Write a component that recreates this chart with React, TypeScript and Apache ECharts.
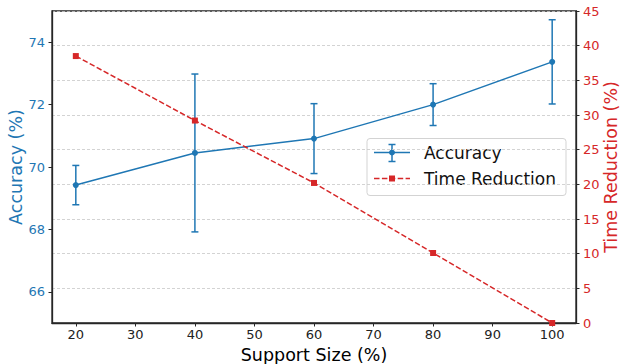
import React, { useEffect, useRef } from "react";
import * as echarts from "echarts";

const supportSize = [20, 40, 60, 80, 100];
const accuracy = [69.42, 70.45, 70.91, 72.0, 73.37];
const accuracyErr = [0.63, 2.53, 1.12, 0.67, 1.35];
const timeReduction = [38.5, 29.2, 20.2, 10.1, 0];
const xTicks = [20, 30, 40, 50, 60, 70, 80, 90, 100];
const leftTicks = [66, 68, 70, 72, 74];

const BLUE = "#1f77b4";
const RED = "#d62728";
const FONT = "DejaVu Sans";
const SPINE = "#262626";

export default function App() {
  const ref = useRef<HTMLDivElement>(null);
  useEffect(() => {
    if (!ref.current) return;
    const chart = echarts.init(ref.current, undefined, { renderer: "svg" });
    const errData = supportSize.map((x, i) => [x, accuracy[i] - accuracyErr[i], accuracy[i] + accuracyErr[i]]);
    const legendX = 367;
    const legendY = 138.5;
    chart.setOption({
      animation: false,
      grid: {
        left: 52,
        right: 45,
        top: 11,
        bottom: 41,
        containLabel: false,
        outerBoundsMode: "none",
        show: true,
        borderColor: SPINE,
        borderWidth: 1.3,
        backgroundColor: "transparent",
      },
      xAxis: {
        type: "value",
        min: 16,
        max: 104,
        name: "Support Size (%)",
        nameLocation: "middle",
        nameGap: 23,
        nameMoveOverlap: false,
        nameTextStyle: { fontFamily: FONT, fontSize: 17.5, color: "#000", verticalAlign: "top" },
        axisLine: { show: true, lineStyle: { color: SPINE, width: 1.3 } },
        axisTick: { show: true, length: 3.5, lineStyle: { color: SPINE }, customValues: xTicks },
        axisLabel: { fontFamily: FONT, fontSize: 13, color: "#222", margin: 5, customValues: xTicks },
        splitLine: { show: false },
      },
      yAxis: [
        {
          type: "value",
          min: 65,
          max: 75,
          position: "left",
          name: "Accuracy (%)",
          nameLocation: "middle",
          nameGap: 36.5,
          nameRotate: 90,
          nameMoveOverlap: false,
          nameTextStyle: { fontFamily: FONT, fontSize: 17.5, color: BLUE, verticalAlign: "middle", align: "center" },
          axisLine: { show: true, lineStyle: { color: SPINE, width: 1.3 } },
          axisTick: { show: true, length: 3.5, lineStyle: { color: SPINE }, customValues: leftTicks },
          axisLabel: { fontFamily: FONT, fontSize: 13, color: BLUE, margin: 7, customValues: leftTicks },
          splitLine: { show: false },
        },
        {
          type: "value",
          min: 0,
          max: 45,
          interval: 5,
          position: "right",
          name: "Time Reduction (%)",
          nameLocation: "middle",
          nameGap: 35,
          nameRotate: 90,
          nameMoveOverlap: false,
          nameTextStyle: { fontFamily: FONT, fontSize: 17.5, color: RED, verticalAlign: "middle", align: "center" },
          axisLine: { show: true, lineStyle: { color: SPINE, width: 1.3 } },
          axisTick: { show: true, length: 3.5, lineStyle: { color: SPINE } },
          axisLabel: { fontFamily: FONT, fontSize: 13, color: RED, margin: 7 },
          splitLine: { show: true, lineStyle: { color: "#c8c8c8", type: [3, 2], width: 0.8 } },
        },
      ],
      series: [
        {
          type: "custom",
          name: "err",
          yAxisIndex: 0,
          encode: { x: 0, y: [1, 2] },
          data: errData,
          z: 2,
          renderItem: (params: any, api: any) => {
            const x = api.value(0);
            const p1 = api.coord([x, api.value(1)]);
            const p2 = api.coord([x, api.value(2)]);
            const w = 3.5;
            const style = { stroke: BLUE, lineWidth: 1.5 };
            return {
              type: "group",
              children: [
                { type: "line", shape: { x1: p1[0], y1: p1[1], x2: p2[0], y2: p2[1] }, style },
                { type: "line", shape: { x1: p1[0] - w, y1: p1[1], x2: p1[0] + w, y2: p1[1] }, style },
                { type: "line", shape: { x1: p2[0] - w, y1: p2[1], x2: p2[0] + w, y2: p2[1] }, style },
              ],
            };
          },
        },
        {
          type: "line",
          name: "Accuracy",
          yAxisIndex: 0,
          data: supportSize.map((x, i) => [x, accuracy[i]]),
          symbol: "circle",
          symbolSize: 6,
          showSymbol: true,
          lineStyle: { color: BLUE, width: 1.5 },
          itemStyle: { color: BLUE },
          z: 3,
        },
        {
          type: "line",
          name: "Time Reduction",
          yAxisIndex: 1,
          data: supportSize.map((x, i) => [x, timeReduction[i]]),
          symbol: "rect",
          symbolSize: 6,
          showSymbol: true,
          lineStyle: { color: RED, width: 1.5, type: [5.5, 2.4] },
          itemStyle: { color: RED },
          z: 4,
        },
      ],
      graphic: [
        {
          type: "group",
          z: 100,
          children: [
            {
              type: "rect",
              shape: { x: legendX, y: legendY, width: 199, height: 57, r: 3 },
              style: { fill: "rgba(255,255,255,0.85)", stroke: "#d3d3d3", lineWidth: 1 },
            },
            { type: "line", shape: { x1: 374, y1: 152.5, x2: 410, y2: 152.5 }, style: { stroke: BLUE, lineWidth: 1.5 } },
            { type: "line", shape: { x1: 392, y1: 144.5, x2: 392, y2: 161.5 }, style: { stroke: BLUE, lineWidth: 1.5 } },
            { type: "line", shape: { x1: 388.5, y1: 144.5, x2: 395.5, y2: 144.5 }, style: { stroke: BLUE, lineWidth: 1.5 } },
            { type: "line", shape: { x1: 388.5, y1: 161.5, x2: 395.5, y2: 161.5 }, style: { stroke: BLUE, lineWidth: 1.5 } },
            { type: "circle", shape: { cx: 392, cy: 152.5, r: 3 }, style: { fill: BLUE } },
            {
              type: "text",
              style: { x: 424, y: 152.5, text: "Accuracy", fontFamily: FONT, fontSize: 17, fill: "#111", verticalAlign: "middle" },
            },
            {
              type: "line",
              shape: { x1: 374, y1: 178.5, x2: 410, y2: 178.5 },
              style: { stroke: RED, lineWidth: 1.5, lineDash: [5.5, 2.4] },
            },
            { type: "rect", shape: { x: 389, y: 175.5, width: 6, height: 6 }, style: { fill: RED } },
            {
              type: "text",
              style: { x: 424, y: 178.5, text: "Time Reduction", fontFamily: FONT, fontSize: 17, fill: "#111", verticalAlign: "middle" },
            },
          ],
        },
      ],
    });
    return () => chart.dispose();
  }, []);
  return <div ref={ref} style={{ width: 621, height: 364, position: "absolute", left: 0, top: 0 }} />;
}
